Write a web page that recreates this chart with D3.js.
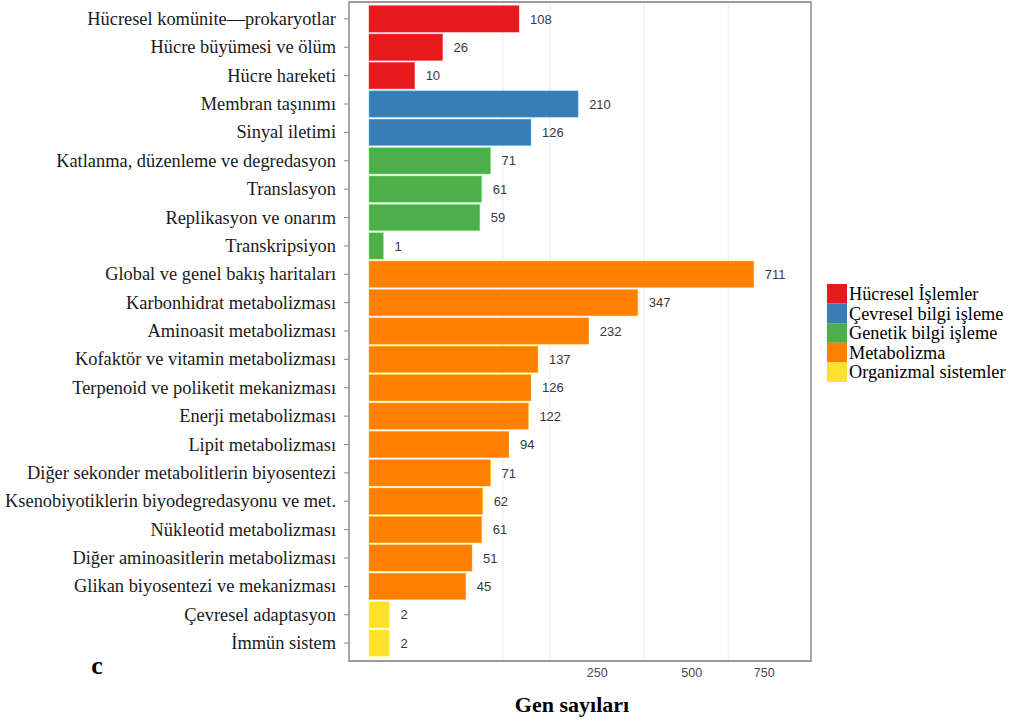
<!DOCTYPE html>
<html>
<head>
<meta charset="utf-8">
<script src="https://cdn.jsdelivr.net/npm/d3@7"></script>
<style>
  html, body { margin: 0; padding: 0; background: #fff; }
  svg { display: block; }
</style>
</head>
<body>
<svg id="chart" width="1016" height="724"></svg>
<script>
// KEGG pathway categories, gene counts and their top-level groups
const categories = [
  "Hücresel komünite—prokaryotlar",
  "Hücre büyümesi ve ölüm",
  "Hücre hareketi",
  "Membran taşınımı",
  "Sinyal iletimi",
  "Katlanma, düzenleme ve degredasyon",
  "Translasyon",
  "Replikasyon ve onarım",
  "Transkripsiyon",
  "Global ve genel bakış haritaları",
  "Karbonhidrat metabolizması",
  "Aminoasit metabolizması",
  "Kofaktör ve vitamin metabolizması",
  "Terpenoid ve poliketit mekanizması",
  "Enerji metabolizması",
  "Lipit metabolizması",
  "Diğer sekonder metabolitlerin biyosentezi",
  "Ksenobiyotiklerin biyodegredasyonu ve met.",
  "Nükleotid metabolizması",
  "Diğer aminoasitlerin metabolizması",
  "Glikan biyosentezi ve mekanizması",
  "Çevresel adaptasyon",
  "İmmün sistem"
];
const geneCounts = [108, 26, 10, 210, 126, 71, 61, 59, 1, 711, 347, 232, 137, 126, 122, 94, 71, 62, 61, 51, 45, 2, 2];
const groupOf = [0, 0, 0, 1, 1, 2, 2, 2, 2, 3, 3, 3, 3, 3, 3, 3, 3, 3, 3, 3, 3, 4, 4];
const groups = ["Hücresel İşlemler", "Çevresel bilgi işleme", "Genetik bilgi işleme", "Metabolizma", "Organizmal sistemler"];
const groupColors = ["#E41A1C", "#377EB8", "#4DAF4A", "#FF7F00", "#FFE12B"];
const xTicks = [250, 500, 750];
const gridValues = [86, 157, 364, 620];

const svg = d3.select("#chart");
const panel = { left: 349, right: 811, top: 2, bottom: 661 };

// square-root scaled count axis
const x = d3.scaleSqrt().domain([0, 938]).range([369, 811]);
const y = d3.scaleBand().domain(categories).range([4.7, 657.3]).paddingInner(0.07).paddingOuter(0.035);

// panel background and grid
svg.append("rect")
  .attr("x", panel.left).attr("y", panel.top)
  .attr("width", panel.right - panel.left).attr("height", panel.bottom - panel.top)
  .attr("fill", "#fff");

svg.append("g").selectAll("line").data(gridValues).join("line")
  .attr("x1", d => x(d)).attr("x2", d => x(d))
  .attr("y1", panel.top).attr("y2", panel.bottom)
  .attr("stroke", "#ececec").attr("stroke-width", 1);

// bars
const rows = categories.map((c, i) => ({ name: c, value: geneCounts[i], group: groupOf[i] }));
svg.append("g").selectAll("rect").data(rows).join("rect")
  .attr("x", x(0))
  .attr("y", d => y(d.name))
  .attr("width", d => x(d.value) - x(0))
  .attr("height", y.bandwidth())
  .attr("fill", d => groupColors[d.group])
  .attr("stroke", d => d3.color(groupColors[d.group]).brighter(1.2))
  .attr("stroke-opacity", 0.5)
  .attr("stroke-width", 0.8);

// value labels
svg.append("g").selectAll("text").data(rows).join("text")
  .attr("x", d => x(d.value) + 11)
  .attr("y", d => y(d.name) + y.bandwidth() / 2)
  .attr("dy", "0.36em")
  .attr("font-family", "Liberation Sans, Arial, sans-serif")
  .attr("font-size", 13)
  .attr("fill", "#383838")
  .text(d => d.value);

// panel border
svg.append("path")
  .attr("d", `M${panel.left},${panel.top}H${panel.right}V${panel.bottom}H${panel.left}Z`)
  .attr("fill", "none").attr("stroke", "#7a7a7a").attr("stroke-width", 1.3);

// y axis: ticks and category labels
const yAxis = svg.append("g");
yAxis.selectAll("line").data(categories).join("line")
  .attr("x1", panel.left - 5).attr("x2", panel.left)
  .attr("y1", d => y(d) + y.bandwidth() / 2).attr("y2", d => y(d) + y.bandwidth() / 2)
  .attr("stroke", "#8a8a8a").attr("stroke-width", 1);
yAxis.selectAll("text").data(categories).join("text")
  .attr("x", 336)
  .attr("y", d => y(d) + y.bandwidth() / 2)
  .attr("dy", "0.33em")
  .attr("text-anchor", "end")
  .attr("font-family", "Liberation Serif, Times New Roman, serif")
  .attr("font-size", 18.4)
  .attr("fill", "#1a1a1a")
  .text(d => d);

// x axis labels
svg.append("g").selectAll("text").data(xTicks).join("text")
  .attr("x", d => x(d))
  .attr("y", 677)
  .attr("text-anchor", "middle")
  .attr("font-family", "Liberation Sans, Arial, sans-serif")
  .attr("font-size", 12.5)
  .attr("fill", "#4a4a4a")
  .text(d => d);

svg.append("text")
  .attr("x", 572).attr("y", 712)
  .attr("text-anchor", "middle")
  .attr("font-family", "Liberation Serif, Times New Roman, serif")
  .attr("font-weight", "bold")
  .attr("font-size", 22)
  .attr("fill", "#000")
  .text("Gen sayıları");

svg.append("text")
  .attr("x", 97).attr("y", 674)
  .attr("text-anchor", "middle")
  .attr("font-family", "Liberation Serif, Times New Roman, serif")
  .attr("font-weight", "bold")
  .attr("font-size", 26)
  .attr("fill", "#000")
  .text("c");

// legend
const legend = svg.append("g").attr("transform", "translate(827,284)");
const item = legend.selectAll("g").data(groups).join("g")
  .attr("transform", (d, i) => `translate(0,${i * 19.6})`);
item.append("rect")
  .attr("width", 20).attr("height", 19.6)
  .attr("fill", (d, i) => groupColors[i]);
item.append("text")
  .attr("x", 22).attr("y", 10)
  .attr("dy", "0.33em")
  .attr("font-family", "Liberation Serif, Times New Roman, serif")
  .attr("font-size", 18.3)
  .attr("fill", "#000")
  .text(d => d);
</script>
</body>
</html>
